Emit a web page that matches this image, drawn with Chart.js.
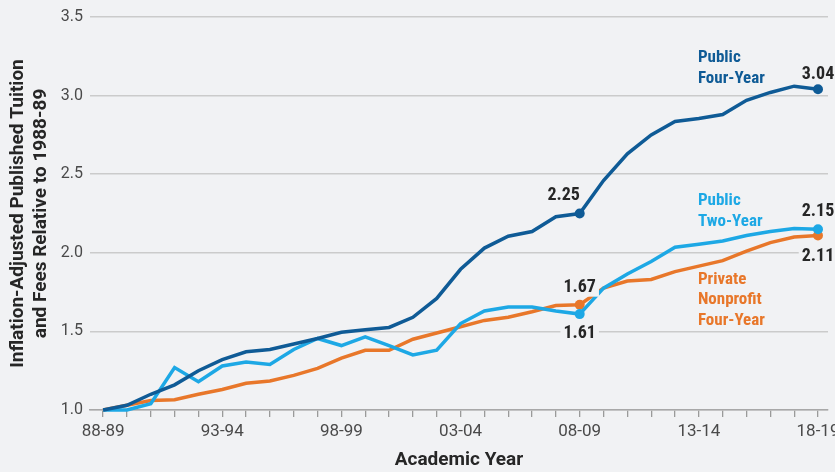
<!DOCTYPE html>
<html>
<head>
<meta charset="utf-8">
<script src="https://cdn.jsdelivr.net/npm/chart.js@4/dist/chart.umd.min.js"></script>
<style>
html,body{margin:0;padding:0;background:#f1f2f4;overflow:hidden;width:835px;height:472px;}
#wrap{position:relative;width:850px;height:472px;}
</style>
</head>
<body>
<div id="wrap"><canvas id="c" width="850" height="472"></canvas></div>
<script>
const categories = ["88-89","89-90","90-91","91-92","92-93","93-94","94-95","95-96","96-97","97-98","98-99","99-00","00-01","01-02","02-03","03-04","04-05","05-06","06-07","07-08","08-09","09-10","10-11","11-12","12-13","13-14","14-15","15-16","16-17","17-18","18-19"];
const publicFourYear = [1.00,1.03,1.10,1.16,1.25,1.32,1.37,1.385,1.42,1.455,1.495,1.51,1.525,1.59,1.71,1.895,2.03,2.105,2.135,2.23,2.25,2.46,2.63,2.75,2.835,2.855,2.88,2.97,3.02,3.06,3.04];
const publicTwoYear = [1.00,1.00,1.04,1.27,1.18,1.28,1.305,1.29,1.385,1.455,1.41,1.465,1.41,1.35,1.38,1.55,1.63,1.655,1.655,1.63,1.61,1.775,1.865,1.945,2.035,2.055,2.075,2.11,2.135,2.155,2.15];
const privateNonprofit = [1.00,1.03,1.06,1.065,1.10,1.13,1.17,1.185,1.22,1.265,1.33,1.38,1.38,1.45,1.49,1.53,1.57,1.59,1.625,1.665,1.67,1.775,1.82,1.83,1.88,1.915,1.95,2.01,2.065,2.10,2.11];
const yTicks = [1.0,1.5,2.0,2.5,3.0,3.5];
const markedIndex = [20, 30];

const NARROW = "'Liberation Sans Narrow','Roboto Condensed','DejaVu Sans Condensed',Arial,sans-serif";
const FONT = "Roboto,'Liberation Sans',Arial,sans-serif";
const C_DARK = '#0f5b96', C_LIGHT = '#1da8e5', C_ORANGE = '#e8772a', BG = '#f1f2f4';

function pts(arr){ return arr.map((v,i)=>({x:i,y:v})); }
function radii(arr){ return arr.map((v,i)=> markedIndex.includes(i) ? 5 : 0); }

const valueLabels = [
  {ds:0, i:20, dx:-16, dy:-18},
  {ds:0, i:30, dx:0, dy:-15},
  {ds:1, i:20, dx:0, dy:19},
  {ds:1, i:30, dx:0, dy:-18},
  {ds:2, i:20, dx:0, dy:-17},
  {ds:2, i:30, dx:0, dy:21}
];
const seriesLabels = [
  {lines:["Public","Four-Year"], color:C_DARK, x:24.96, y:3.24},
  {lines:["Public","Two-Year"], color:C_LIGHT, x:24.96, y:2.33},
  {lines:["Private","Nonprofit","Four-Year"], color:C_ORANGE, x:24.96, y:1.83}
];

const bgPlugin = {
  id:'bg',
  beforeDraw(chart){ const ctx=chart.ctx; ctx.save(); ctx.fillStyle=BG; ctx.fillRect(0,0,chart.width,chart.height); ctx.restore(); }
};
const labelPlugin = {
  id:'labels',
  afterDatasetsDraw(chart){
    const ctx = chart.ctx, xs = chart.scales.x, ys = chart.scales.y;
    ctx.save();
    ctx.textAlign='center'; ctx.textBaseline='middle';
    ctx.font = "bold 18px " + NARROW;
    valueLabels.forEach(l=>{
      const v = chart.data.datasets[l.ds].data[l.i].y;
      const px = xs.getPixelForValue(l.i)+l.dx, py = ys.getPixelForValue(v)+l.dy;
      const txt = v.toFixed(2);
      const w = ctx.measureText(txt).width;
      ctx.fillStyle = BG; ctx.fillRect(px-w/2-3, py-9, w+6, 18);
      ctx.fillStyle = '#262626'; ctx.fillText(txt, px, py);
    });
    ctx.textAlign='left';
    ctx.font = "bold 17px " + NARROW;
    seriesLabels.forEach(s=>{
      const px = xs.getPixelForValue(s.x), py = ys.getPixelForValue(s.y);
      ctx.fillStyle = s.color;
      s.lines.forEach((t,k)=> ctx.fillText(t, px, py + k*20.5));
    });
    ctx.restore();
  }
};

const dsBase = {borderWidth:3.5, tension:0, pointHoverRadius:0, pointBorderWidth:0, fill:false, clip:false};

new Chart(document.getElementById('c'), {
  type:'line',
  data:{
    datasets:[
      Object.assign({label:'Public Four-Year', data:pts(publicFourYear), borderColor:C_DARK, backgroundColor:C_DARK, pointRadius:radii(publicFourYear)}, dsBase),
      Object.assign({label:'Public Two-Year', data:pts(publicTwoYear), borderColor:C_LIGHT, backgroundColor:C_LIGHT, pointRadius:radii(publicTwoYear)}, dsBase),
      Object.assign({label:'Private Nonprofit Four-Year', data:pts(privateNonprofit), borderColor:C_ORANGE, backgroundColor:C_ORANGE, pointRadius:radii(privateNonprofit)}, dsBase)
    ]
  },
  options:{
    responsive:false, animation:false,
    layout:{padding:{top:17, right:22, left:0, bottom:0}},
    plugins:{legend:{display:false}, tooltip:{enabled:false}},
    scales:{
      x:{
        type:'linear', min:-0.55, max:30.42,
        afterBuildTicks(s){ s.ticks = categories.map((c,i)=>({value:i})); },
        afterFit(s){ s.height = 62; },
        ticks:{autoSkip:false, maxRotation:0, padding:5, color:'#4a4a4a', font:{family:FONT, size:17},
          callback:(v)=> (v%5===0 ? categories[v] : '')},
        grid:{drawOnChartArea:false, drawTicks:true, tickLength:7, color:'#9a9a9a', lineWidth:1.3},
        border:{display:true, color:'#a8a8a8', width:1.5},
        title:{display:true, text:'Academic Year', color:'#262626', font:{family:FONT, size:19, weight:'bold'}, padding:{top:0,bottom:0}}
      },
      y:{
        min:1.0, max:3.5,
        afterBuildTicks(s){ s.ticks = yTicks.map(v=>({value:v})); },
        afterFit(s){ s.width = 90; },
        ticks:{padding:7, color:'#4a4a4a', font:{family:FONT, size:16}, callback:(v)=>v.toFixed(1)},
        grid:{color:'#cbcbcb', lineWidth:1.5, drawTicks:false},
        border:{display:false},
        title:{display:true, text:['Inflation-Adjusted Published Tuition','and Fees Relative to 1988-89'], color:'#262626', font:{family:FONT, size:19, weight:'bold', lineHeight:1.2}, padding:{top:7,bottom:0}}
      }
    }
  },
  plugins:[bgPlugin, labelPlugin]
});
</script>
</body>
</html>
